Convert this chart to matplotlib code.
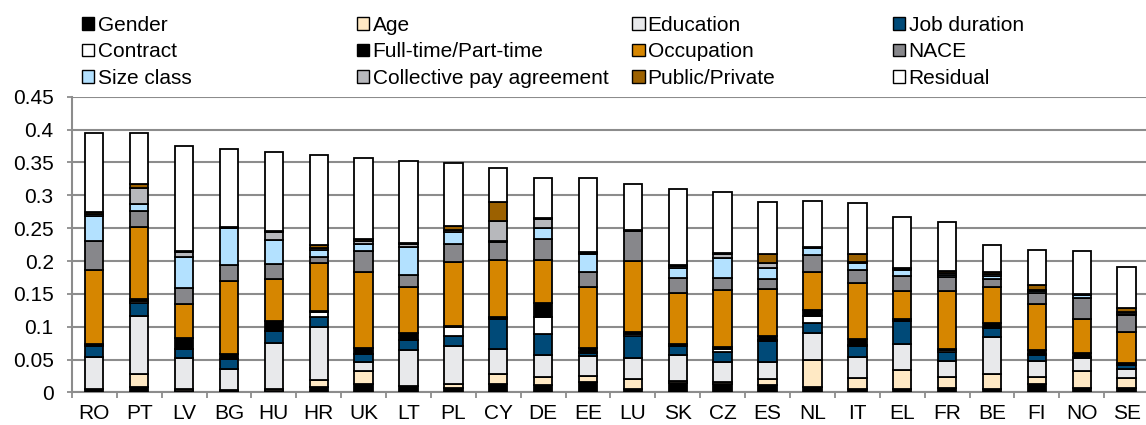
import numpy as np
import matplotlib
matplotlib.use("Agg")
import matplotlib.pyplot as plt
from matplotlib.patches import Patch
from matplotlib.ticker import FuncFormatter, FixedLocator

plt.rcParams['font.family'] = ['Liberation Sans', 'DejaVu Sans']

countries = ["RO", "PT", "LV", "BG", "HU", "HR", "UK", "LT", "PL", "CY", "DE", "EE",
             "LU", "SK", "CZ", "ES", "NL", "IT", "EL", "FR", "BE", "FI", "NO", "SE"]

gender = [0.005, 0.0085, 0.0025, 0.0025, 0.002, 0.0085, 0.0136, 0.0096, 0.007, 0.0126, 0.011, 0.0156,
          0.005, 0.0146, 0.0136, 0.011, 0.009, 0.005, 0.006, 0.007, 0.005, 0.0136, 0.007, 0.007]
age = [0.001, 0.020, 0.003, 0.001, 0.003, 0.010, 0.0186, 0.0005, 0.0066, 0.015, 0.0127, 0.010,
       0.0156, 0.0025, 0.002, 0.0096, 0.040, 0.0177, 0.0287, 0.0167, 0.0227, 0.010, 0.025, 0.0157]
education = [0.048, 0.088, 0.047, 0.032, 0.0705, 0.081, 0.014, 0.054, 0.057, 0.039, 0.034, 0.030,
             0.032, 0.040, 0.0307, 0.0257, 0.041, 0.032, 0.039, 0.024, 0.056, 0.025, 0.021, 0.0125]
job_duration = [0.017, 0.019, 0.0135, 0.015, 0.0175, 0.015, 0.012, 0.015, 0.015, 0.045, 0.0306, 0.0045,
                0.033, 0.013, 0.016, 0.0327, 0.015, 0.0166, 0.035, 0.0146, 0.014, 0.009, 0.001, 0.006]
contract = [0.001, 0.0035, 0.0005, 0.001, 0.0005, 0.008, 0.0005, 0.0005, 0.0146, 0.001, 0.026, 0.001,
            0.0035, 0.001, 0.0036, 0.001, 0.0106, 0.0005, 0.0005, 0.0026, 0.0005, 0.0005, 0.0005, 0.0005]
fulltime = [0.002, 0.0025, 0.0165, 0.007, 0.016, 0.002, 0.0085, 0.011, 0.001, 0.002, 0.0215, 0.006,
            0.0025, 0.002, 0.004, 0.006, 0.010, 0.010, 0.002, 0.0015, 0.007, 0.006, 0.006, 0.0025]
occupation = [0.113, 0.110, 0.0515, 0.111, 0.063, 0.072, 0.1155, 0.0706, 0.098, 0.087, 0.066, 0.094,
              0.108, 0.079, 0.0856, 0.071, 0.058, 0.0855, 0.043, 0.088, 0.0546, 0.0704, 0.052, 0.048]
nace = [0.044, 0.025, 0.024, 0.024, 0.023, 0.010, 0.033, 0.0176, 0.026, 0.0276, 0.032, 0.0216,
        0.046, 0.0227, 0.018, 0.0156, 0.025, 0.0188, 0.0227, 0.021, 0.0136, 0.0176, 0.031, 0.026]
size_class = [0.038, 0.010, 0.048, 0.056, 0.0366, 0.010, 0.010, 0.043, 0.0187, 0.0005, 0.0166, 0.028,
              0.0005, 0.0151, 0.0313, 0.0168, 0.0115, 0.0116, 0.010, 0.004, 0.004, 0.0025, 0.005, 0.0005]
collective = [0.003, 0.025, 0.0075, 0.001, 0.012, 0.003, 0.005, 0.004, 0.003, 0.031, 0.014, 0.002,
              0.0005, 0.002, 0.0065, 0.008, 0.0005, 0.001, 0.001, 0.0025, 0.003, 0.002, 0.001, 0.003]
public_private = [0.002, 0.005, 0.0005, 0.001, 0.001, 0.005, 0.0026, 0.001, 0.006, 0.029, 0.001, 0.001,
                  0.001, 0.002, 0.001, 0.013, 0.0005, 0.0126, 0.001, 0.0025, 0.003, 0.0065, 0.0005, 0.007]
residual = [0.121, 0.0785, 0.1605, 0.1185, 0.1204, 0.1365, 0.1227, 0.1257, 0.0961, 0.0523, 0.0606, 0.1123,
            0.069, 0.115, 0.0923, 0.080, 0.0704, 0.0777, 0.0785, 0.0749, 0.0406, 0.0539, 0.065, 0.0626]

series = [
    ("Gender", gender, "#000000"),
    ("Age", age, "#FFE9C4"),
    ("Education", education, "#E8E9EB"),
    ("Job duration", job_duration, "#004A78"),
    ("Contract", contract, "#FFFFFF"),
    ("Full-time/Part-time", fulltime, "#000000"),
    ("Occupation", occupation, "#D68600"),
    ("NACE", nace, "#87878B"),
    ("Size class", size_class, "#B3E1FF"),
    ("Collective pay agreement", collective, "#B7B8BC"),
    ("Public/Private", public_private, "#9C6100"),
    ("Residual", residual, "#FFFFFF"),
]

fig = plt.figure(figsize=(11.46, 4.25), dpi=100)
ax = fig.add_axes([0.0627, 0.0765, 0.94, 0.696])

x = np.arange(len(countries))
bottom = np.zeros(len(countries))
for name, vals, col in series:
    vals = np.array(vals)
    ax.bar(x, vals, 0.41, bottom=bottom, color=col, edgecolor="black", linewidth=1.3, zorder=3)
    bottom += vals

grid_col = "#8C8C8C"
ax.set_ylim(0, 0.45)
ax.set_xlim(-0.5, len(countries) - 0.5)
ax.set_yticks(np.arange(0, 0.451, 0.05))
ax.yaxis.set_major_formatter(FuncFormatter(lambda v, p: "%g" % round(v, 2)))
ax.grid(axis="y", color=grid_col, linewidth=1.5, zorder=0)
ax.set_xticks(x)
ax.set_xticklabels(countries)
ax.xaxis.set_minor_locator(FixedLocator(np.arange(-0.5, len(countries), 1.0)))
ax.tick_params(axis="x", which="major", length=0, pad=8, labelsize=15)
ax.tick_params(axis="x", which="minor", length=4, width=1.3, color=grid_col)
ax.tick_params(axis="y", length=3.6, width=1.3, color=grid_col, labelsize=15, pad=9.5)
for s in ["top", "right"]:
    ax.spines[s].set_visible(False)
for s in ["left", "bottom"]:
    ax.spines[s].set_color(grid_col)
    ax.spines[s].set_linewidth(1.5)

# legend: 4 columns, filled row-wise
col_x = [0.0606, 0.3006, 0.5406, 0.7683]
for c in range(4):
    handles = []
    for r in range(3):
        name, vals, col = series[r * 4 + c]
        handles.append(Patch(facecolor=col, edgecolor="black", linewidth=1.0, label=name))
    fig.legend(handles=handles, loc="upper left", bbox_to_anchor=(col_x[c], 0.992),
               frameon=False, fontsize=15, handlelength=0.6, handleheight=0.55,
               handletextpad=0.15, labelspacing=0.355, borderaxespad=0.2)

fig.savefig("out.png", dpi=100)
